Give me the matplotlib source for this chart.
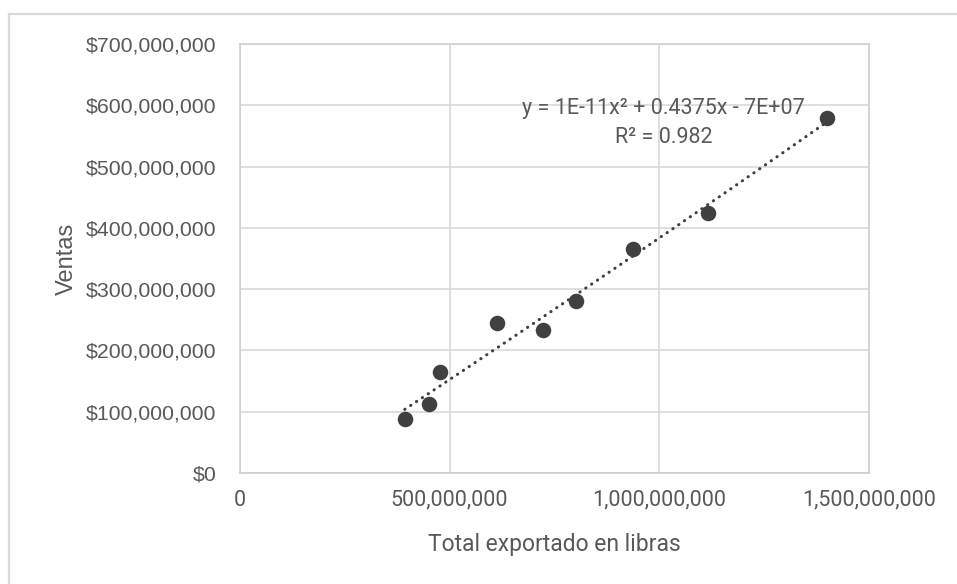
import matplotlib
matplotlib.use('Agg')
import matplotlib.pyplot as plt
import numpy as np
from matplotlib.ticker import FuncFormatter
from matplotlib.lines import Line2D

# data
exportado = [393e6, 452e6, 476e6, 614e6, 724e6, 802e6, 938e6, 1117e6, 1400e6]
ventas = [88e6, 113e6, 165e6, 244e6, 234e6, 280e6, 365e6, 424e6, 579e6]
x_ticks = [0, 500e6, 1000e6, 1500e6]
y_ticks = [0, 100e6, 200e6, 300e6, 400e6, 500e6, 600e6, 700e6]
eq_text = 'y = 1E-11x² + 0.4375x - 7E+07\nR² = 0.982'

TXT = '#595959'
GRID = '#d9d9d9'
DOT = '#404040'

fig = plt.figure(figsize=(9.57, 5.84), dpi=100)
ax = fig.add_axes([0.2508, 0.190, 0.657, 0.7347])

# outer chart frame (only top/left visible)
fig.add_artist(Line2D([9/957, 9/957], [0, 1 - 14/584], color=GRID, lw=1.6,
                      transform=fig.transFigure))
fig.add_artist(Line2D([9/957, 1], [1 - 14/584, 1 - 14/584], color=GRID, lw=1.6,
                      transform=fig.transFigure))

ax.scatter(exportado, ventas, s=125, color=DOT, zorder=3, linewidths=0)

# polynomial (order 2) trendline
coef = np.polyfit(exportado, ventas, 2)
xs = np.linspace(min(exportado), max(exportado), 200)
ax.plot(xs, np.polyval(coef, xs), color=DOT, lw=2.2,
        linestyle=(0, (0.1, 2.2)), dash_capstyle='round', zorder=2)

ax.set_xlim(0, 1500e6)
ax.set_ylim(0, 700e6)
ax.set_xticks(x_ticks)
ax.set_yticks(y_ticks)
ax.xaxis.set_major_formatter(FuncFormatter(lambda v, p: f'{v:,.0f}'))
ax.yaxis.set_major_formatter(FuncFormatter(lambda v, p: f'${v:,.0f}'))

ax.grid(True, color=GRID, lw=1.2, zorder=0)
ax.set_axisbelow(True)
for s in ax.spines.values():
    s.set_color('#cfcfcf')
    s.set_linewidth(1.2)

ax.tick_params(length=0)
ax.tick_params(axis='y', pad=17, labelsize=15.3, labelcolor=TXT)
ax.tick_params(axis='x', pad=12, labelsize=15.5, labelcolor=TXT)
for lbl in ax.get_yticklabels():
    lbl.set_family(['Liberation Sans', 'DejaVu Sans'])
for lbl in ax.get_xticklabels():
    lbl.set_family(['Roboto', 'DejaVu Sans'])

ax.set_xlabel('Total exportado en libras', fontsize=16.5, color=TXT,
              family=['Roboto', 'DejaVu Sans'], labelpad=16)
ax.set_ylabel('Ventas', fontsize=17, color=TXT,
              family=['Liberation Sans', 'DejaVu Sans'], labelpad=6)

ax.text(0.674, 0.815, eq_text, transform=ax.transAxes, ha='center', va='center',
        fontsize=15.5, color=TXT, multialignment='center', linespacing=1.5,
        family=['Roboto', 'DejaVu Sans'])

fig.savefig('out.png', dpi=100, facecolor='white')
